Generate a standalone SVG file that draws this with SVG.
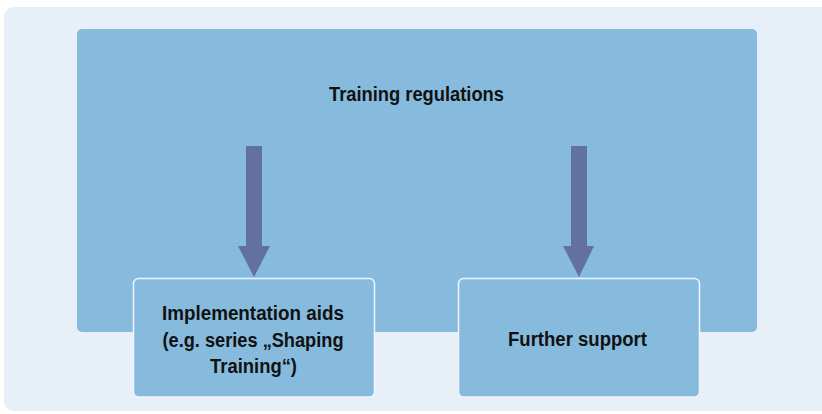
<svg xmlns="http://www.w3.org/2000/svg" width="822" height="414" viewBox="0 0 822 414">
  <style>
    .panel { fill: #e7eff8; }
    .big { fill: #86bbde; }
    .node { fill: #86bbde; stroke: #eef5fb; stroke-width: 1.5; }
    .arrow { fill: #6371a1; }
    text { font-family: "Liberation Sans", Arial, sans-serif; font-weight: bold; font-size: 20px; fill: #111; text-anchor: middle; }
  </style>
  <rect width="822" height="414" fill="#ffffff"/>
  <rect class="panel" x="4" y="7" width="830" height="404" rx="9"/>
  <g id="training-regulations">
    <rect class="big" x="77" y="29" width="680" height="303" rx="5"/>
    <text x="416.5" y="101" textLength="175" lengthAdjust="spacingAndGlyphs">Training regulations</text>
  </g>
  <g id="connectors">
    <polygon class="arrow" points="246,146 262,146 262,246 270,246 254,277 238,246 246,246"/>
    <polygon class="arrow" points="571,146 587,146 587,246 594,246 579,277 563,246 571,246"/>
  </g>
  <g id="implementation-aids">
    <rect class="node" x="133.5" y="278.5" width="241" height="118.5" rx="5"/>
    <text x="253" y="320" textLength="182" lengthAdjust="spacingAndGlyphs">Implementation aids</text>
    <text x="253" y="347" textLength="181" lengthAdjust="spacingAndGlyphs">(e.g. series „Shaping</text>
    <text x="253.5" y="373" textLength="87" lengthAdjust="spacingAndGlyphs">Training“)</text>
  </g>
  <g id="further-support">
    <rect class="node" x="458.5" y="278.5" width="241" height="118.5" rx="5"/>
    <text x="577.5" y="346" textLength="139" lengthAdjust="spacingAndGlyphs">Further support</text>
  </g>
</svg>
